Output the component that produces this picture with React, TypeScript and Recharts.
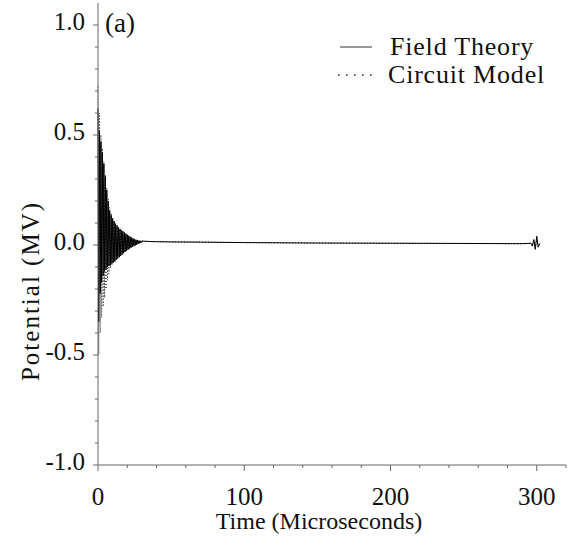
import { Label, Legend, Line, LineChart, XAxis, YAxis } from "recharts";

const FONT = "'Liberation Serif', 'Times New Roman', serif";

// time in microseconds
const TIME = [
  0, 0.5, 1, 1.5, 2, 2.5, 3, 3.5, 4, 4.5, 5, 5.5, 6, 6.5, 7, 7.5, 8, 8.5, 9, 9.5,
  10, 10.5, 11, 11.5, 12, 12.5, 13, 13.5, 14, 14.5, 15, 15.5, 16, 16.5, 17, 17.5, 18, 18.5, 19, 19.5,
  20, 20.5, 21, 21.5, 22, 22.5, 23, 23.5, 24, 24.5, 25, 25.5, 26, 26.5, 27, 27.5, 28, 28.5, 29, 29.5, 30,
  32, 35, 40, 50, 70, 100, 150, 200, 250, 290, 296, 297, 298, 299, 300, 301, 302,
];

// potential in MV
const FIELD = [
  0.62, -0.35, 0.52, -0.22, 0.47, -0.17, 0.42, -0.14, 0.37, -0.12, 0.31, -0.11, 0.25, -0.1, 0.2, -0.095, 0.155, -0.09, 0.135, -0.085,
  0.12, -0.08, 0.108, -0.075, 0.097, -0.068, 0.088, -0.062, 0.08, -0.056, 0.074, -0.05, 0.068, -0.044, 0.063, -0.038, 0.057, -0.032, 0.052, -0.027,
  0.047, -0.022, 0.042, -0.017, 0.038, -0.013, 0.034, -0.009, 0.03, -0.005, 0.027, -0.002, 0.024, 0.002, 0.022, 0.005, 0.02, 0.008, 0.019, 0.011, 0.018,
  0.017, 0.016, 0.015, 0.014, 0.013, 0.011, 0.009, 0.008, 0.007, 0.006, 0.008, -0.005, 0.025, -0.02, 0.04, -0.01, 0.006,
];

const CIRCUIT = [
  0.72, -0.5, 0.6, -0.4, 0.5, -0.33, 0.44, -0.28, 0.38, -0.24, 0.32, -0.2, 0.26, -0.16, 0.21, -0.13, 0.17, -0.105, 0.145, -0.09,
  0.125, -0.078, 0.11, -0.068, 0.098, -0.06, 0.088, -0.054, 0.08, -0.048, 0.073, -0.043, 0.066, -0.038, 0.06, -0.033, 0.054, -0.028, 0.049, -0.024,
  0.044, -0.02, 0.04, -0.016, 0.036, -0.012, 0.032, -0.008, 0.029, -0.005, 0.026, -0.002, 0.024, 0.002, 0.022, 0.005, 0.02, 0.008, 0.019, 0.011, 0.018,
  0.017, 0.016, 0.015, 0.014, 0.013, 0.011, 0.009, 0.008, 0.007, 0.006, 0.007, -0.004, 0.02, -0.015, 0.03, -0.008, 0.006,
];

const X_TICKS = [0, 20, 40, 60, 80, 100, 120, 140, 160, 180, 200, 220, 240, 260, 280, 300, 320];
const X_LABELS = [0, 100, 200, 300];
const Y_TICKS = [-1, -0.9, -0.8, -0.7, -0.6, -0.5, -0.4, -0.3, -0.2, -0.1, 0, 0.1, 0.2, 0.3, 0.4, 0.5, 0.6, 0.7, 0.8, 0.9, 1];
const Y_LABELS = [-1, -0.5, 0, 0.5, 1];

const data = TIME.map((t, i) => ({ t, field: FIELD[i], circuit: CIRCUIT[i] }));

const AXIS = "#666";

function XTick({ x, y, payload }: any) {
  const major = X_LABELS.includes(payload.value);
  return (
    <g>
      <line x1={x} x2={x} y1={y} y2={y + (major ? 6 : 3)} stroke={AXIS} />
      {major && (
        <text x={x} y={y + 40} textAnchor="middle" fontFamily={FONT} fontSize={25} fill="#111">
          {payload.value}
        </text>
      )}
    </g>
  );
}

function YTick({ x, y, payload }: any) {
  const v = payload.value;
  const major = Y_LABELS.some((l) => Math.abs(l - v) < 1e-6);
  return (
    <g>
      <line x1={x - (major ? 5 : 3)} x2={x} y1={y} y2={y} stroke={AXIS} />
      {major && (
        <text x={x - 13} y={y + 5} textAnchor="end" fontFamily={FONT} fontSize={25} fill="#111">
          {v.toFixed(1)}
        </text>
      )}
    </g>
  );
}

function LegendBox() {
  const row = { display: "flex", alignItems: "center", height: 28, whiteSpace: "nowrap" } as const;
  return (
    <div style={{ fontFamily: FONT, fontSize: 26, letterSpacing: 0.8, color: "#111", lineHeight: "28px" }}>
      <div style={row}>
        <svg width={46} height={10} style={{ marginRight: 10 }}>
          <line x1={6} x2={38} y1={5} y2={5} stroke="#333" strokeWidth={1} />
        </svg>
        Field Theory
      </div>
      <div style={row}>
        <svg width={46} height={10} style={{ marginRight: 8 }}>
          <line x1={4} x2={38} y1={5} y2={5} stroke="#222" strokeWidth={1.5} strokeDasharray="1.5 6.5" />
        </svg>
        Circuit Model
      </div>
    </div>
  );
}

export default function App() {
  return (
    <div style={{ position: "absolute", left: 0, top: 0, background: "#fff" }}>
      <LineChart width={572} height={541} data={data} margin={{ top: 3, right: 6, left: 0, bottom: 0 }}>
        <XAxis
          dataKey="t"
          type="number"
          domain={[0, 320]}
          ticks={X_TICKS}
          interval={0}
          height={76}
          tickSize={0}
          tickMargin={0}
          tickLine={false}
          axisLine={{ stroke: AXIS }}
          tick={<XTick />}
        >
          <Label
            content={({ viewBox }: any) => (
              <text x={viewBox.x + viewBox.width / 2 - 13} y={viewBox.y + 64} textAnchor="middle" fontFamily={FONT} fontSize={24} fill="#111">
                Time (Microseconds)
              </text>
            )}
          />
        </XAxis>
        <YAxis
          type="number"
          domain={[-1, 1.1]}
          ticks={Y_TICKS}
          interval={0}
          width={98}
          tickSize={0}
          tickMargin={0}
          tickLine={false}
          axisLine={{ stroke: AXIS }}
          tick={<YTick />}
          allowDataOverflow
        >
          <Label
            content={() => {
              const cx = 39;
              const cy = 291;
              return (
                <text x={cx} y={cy} textAnchor="middle" transform={`rotate(-90 ${cx} ${cy})`} fontFamily={FONT} fontSize={25} letterSpacing={2} fill="#111">
                  Potential (MV)
                </text>
              );
            }}
          />
          <Label
            content={({ viewBox }: any) => (
              <text x={viewBox.x + viewBox.width + 7} y={viewBox.y + 29} fontFamily={FONT} fontSize={27} fill="#111">
                (a)
              </text>
            )}
          />
        </YAxis>
        <Legend
          layout="vertical"
          align="center"
          verticalAlign="middle"
          wrapperStyle={{ top: 33, left: 334, width: "auto" }}
          content={<LegendBox />}
        />
        <Line
          type="linear"
          dataKey="circuit"
          stroke="#222"
          strokeWidth={1}
          strokeDasharray="1 2"
          dot={false}
          isAnimationActive={false}
        />
        <Line type="linear" dataKey="field" stroke="#000" strokeWidth={1} dot={false} isAnimationActive={false} />
      </LineChart>
    </div>
  );
}
